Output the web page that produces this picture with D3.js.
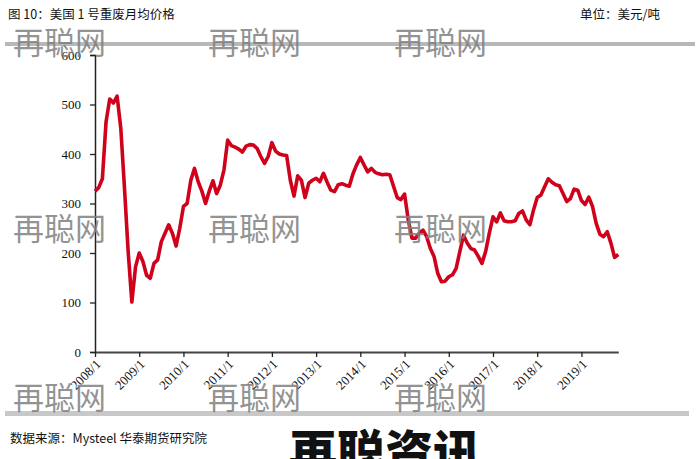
<!DOCTYPE html>
<html><head><meta charset="utf-8">
<script src="https://cdn.jsdelivr.net/npm/d3@7"></script>
<style>
html,body{margin:0;padding:0;background:#fff;}
svg{display:block;}
</style></head>
<body>
<svg id="c" width="698" height="459"></svg>
<script>
const title = "图 10：美国 1 号重废月均价格";
const unitLabel = "单位：美元/吨";
const sourceLabel = "数据来源：Mysteel 华泰期货研究院";
const startYear = 2008, startMonth = 1;
const prices = [
 325,332,350,465,511,503,517,452,331,203,101,172,
 200,183,155,149,179,186,223,240,257,240,214,250,
 294,300,347,371,344,325,300,325,346,320,337,368,
 428,417,414,410,404,416,419,418,411,395,381,395,
 423,406,400,398,397,347,315,356,347,312,341,347,
 351,344,361,343,327,324,338,340,337,335,360,378,
 393,378,364,371,363,360,358,359,358,335,312,308,
 319,267,230,230,240,246,233,209,193,159,142,143,
 152,156,169,203,236,220,209,206,193,179,203,240,
 273,263,281,265,263,263,265,280,285,267,257,287,
 312,317,334,350,343,338,336,320,304,310,329,327,
 306,298,313,294,260,238,233,243,220,191,197
];
const months = prices.map((_, i) => {
  const t = startMonth - 1 + i;
  return (startYear + Math.floor(t / 12)) + "/" + (t % 12 + 1);
});
const yTicks = [0,100,200,300,400,500,600];
const xTickLabels = months.filter(m => m.endsWith("/1"));

const svg = d3.select("#c");
const L = 95, R = 618.3, T = 55, B = 352;
const x = d3.scalePoint().domain(months).range([L, R]);
const y = d3.scaleLinear().domain([0, 600]).range([B, T]);

const serif = "'Liberation Serif','Times New Roman',serif";
const cjk = "'Noto Sans CJK SC','Noto Sans',sans-serif";

// header
svg.append("text").attr("x", 8).attr("y", 19).attr("font-family", cjk)
  .attr("font-size", 12.5).attr("fill", "#111").text(title);
svg.append("text").attr("x", 660).attr("y", 19).attr("text-anchor", "end").attr("font-family", cjk)
  .attr("font-size", 12.5).attr("fill", "#111").text(unitLabel);

// y axis
const yAxis = d3.axisLeft(y).tickValues(yTicks).tickSize(5).tickPadding(9);
const gy = svg.append("g").attr("transform", `translate(${L},0)`).call(yAxis);
gy.select(".domain").attr("stroke", "#222").attr("stroke-width", 1.5);
gy.selectAll(".tick line").attr("stroke", "#222").attr("stroke-width", 1.3);
gy.selectAll(".tick text").attr("font-family", serif).attr("font-size", 13).attr("fill", "#111");

// x axis
const xAxis = d3.axisBottom(x).tickValues(xTickLabels).tickSize(5).tickSizeOuter(0);
const gx = svg.append("g").attr("transform", `translate(0,${B})`).call(xAxis);
gx.select(".domain").attr("stroke", "#444").attr("stroke-width", 2);
gx.selectAll(".tick line").attr("stroke", "#222").attr("stroke-width", 1.3);
gx.selectAll(".tick text").attr("font-family", serif).attr("font-size", 13).attr("fill", "#111")
  .attr("text-anchor", "end").attr("x", 0).attr("y", 0).attr("dy", 0)
  .attr("transform", "translate(6,13) rotate(-45)");

// line
const line = d3.line().x((d, i) => x(months[i])).y(d => y(d)).curve(d3.curveLinear);
svg.append("path").datum(prices).attr("d", line).attr("fill", "none")
  .attr("stroke", "#d0021b").attr("stroke-width", 3.6).attr("stroke-linejoin", "round");

// separator lines
svg.append("rect").attr("x", 5).attr("y", 42).attr("width", 690).attr("height", 4).attr("fill", "#b8b8b8");
svg.append("rect").attr("x", 5).attr("y", 411).attr("width", 684).attr("height", 5).attr("fill", "#c8c8c8");

// watermarks
const wmX = [13, 208, 394];
const wmY = [54, 240, 409];
wmY.forEach(yy => wmX.forEach(xx => {
  svg.append("text").attr("x", xx).attr("y", yy).attr("font-family", cjk).attr("font-weight", 400)
    .attr("font-size", 31).attr("fill", "#808080").attr("fill-opacity", 0.85).text("再聪网");
}));

// footer
svg.append("text").attr("x", 10).attr("y", 443).attr("font-family", cjk)
  .attr("font-size", 12.5).attr("fill", "#111").text(sourceLabel);
svg.append("text").attr("x", 289).attr("y", 470).attr("font-family", cjk).attr("font-weight", 900)
  .attr("font-size", 48).attr("fill", "#111").text("再聪资讯");
</script>
</body></html>
